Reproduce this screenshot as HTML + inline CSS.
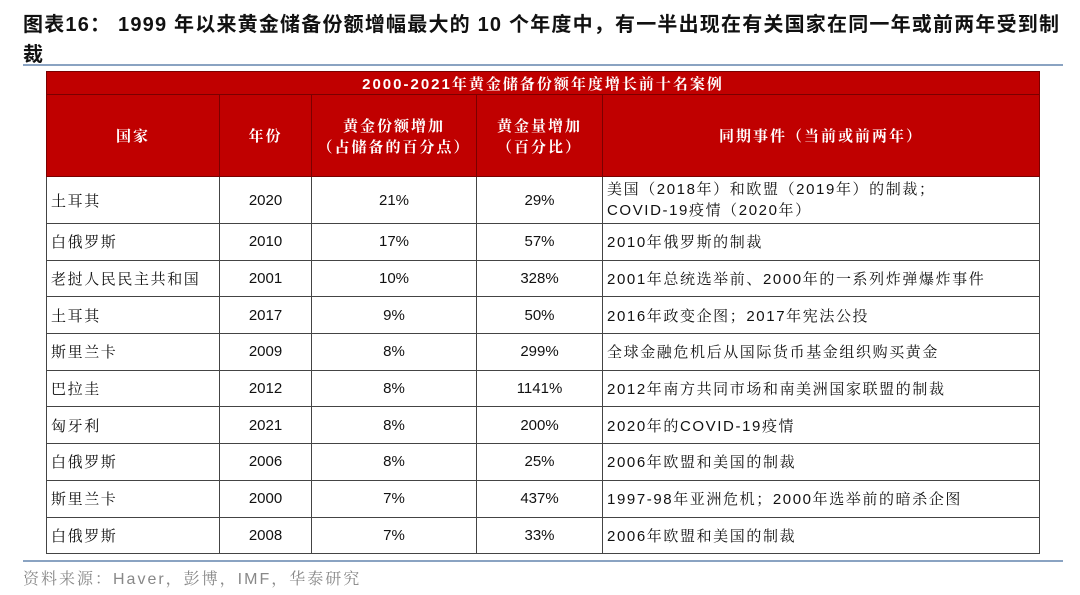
<!DOCTYPE html>
<html><head><meta charset="utf-8"><style>
body{margin:0;width:1080px;height:595px;background:#fff;position:relative;overflow:hidden;font-family:"Liberation Sans","Noto Serif CJK SC",serif;}
.t{position:absolute;left:23px;font-weight:bold;font-size:20px;font-family:"Liberation Sans","Noto Sans CJK SC",sans-serif;color:#111;white-space:nowrap;letter-spacing:1.2px;}
.line{position:absolute;left:23px;width:1040px;height:2px;background:#8aa3c2;}
table{position:absolute;left:46px;top:71px;width:994px;border-collapse:collapse;font-size:15px;color:#111;}
td{border:1.5px solid #444;padding:0 4px;}
.h td{background:#c00000;color:#fff;font-weight:bold;text-align:center;border-color:#7a0000;font-size:15px;letter-spacing:2px;}
.c{text-align:center;}
td.w{letter-spacing:1.6px;}
.src{position:absolute;left:23px;top:566px;font-size:16px;color:#888;letter-spacing:2px;}
</style></head><body>
<div class="t" style="top:8px">图表16： 1999 年以来黄金储备份额增幅最大的 10 个年度中，有一半出现在有关国家在同一年或前两年受到制</div>
<div class="t" style="top:38px">裁</div>
<div class="line" style="top:64px"></div>
<table>
<colgroup><col style="width:173px"><col style="width:92px"><col style="width:165px"><col style="width:126px"><col></colgroup>
<tr class="h" style="height:23px"><td colspan="5">2000-2021年黄金储备份额年度增长前十名案例</td></tr>
<tr class="h" style="height:82px"><td>国家</td><td>年份</td><td>黄金份额增加<br>（占储备的百分点）</td><td>黄金量增加<br>（百分比）</td><td>同期事件（当前或前两年）</td></tr>
<tr style="height:47px"><td class="w">土耳其</td><td class="c">2020</td><td class="c">21%</td><td class="c">29%</td><td class="w" style="line-height:21px">美国（2018年）和欧盟（2019年）的制裁；<br>COVID-19疫情（2020年）</td></tr>
<tr style="height:36.7px"><td class="w">白俄罗斯</td><td class="c">2010</td><td class="c">17%</td><td class="c">57%</td><td class="w">2010年俄罗斯的制裁</td></tr>
<tr style="height:36.7px"><td class="w">老挝人民民主共和国</td><td class="c">2001</td><td class="c">10%</td><td class="c">328%</td><td class="w">2001年总统选举前、2000年的一系列炸弹爆炸事件</td></tr>
<tr style="height:36.7px"><td class="w">土耳其</td><td class="c">2017</td><td class="c">9%</td><td class="c">50%</td><td class="w">2016年政变企图；2017年宪法公投</td></tr>
<tr style="height:36.7px"><td class="w">斯里兰卡</td><td class="c">2009</td><td class="c">8%</td><td class="c">299%</td><td class="w">全球金融危机后从国际货币基金组织购买黄金</td></tr>
<tr style="height:36.7px"><td class="w">巴拉圭</td><td class="c">2012</td><td class="c">8%</td><td class="c">1141%</td><td class="w">2012年南方共同市场和南美洲国家联盟的制裁</td></tr>
<tr style="height:36.7px"><td class="w">匈牙利</td><td class="c">2021</td><td class="c">8%</td><td class="c">200%</td><td class="w">2020年的COVID-19疫情</td></tr>
<tr style="height:36.7px"><td class="w">白俄罗斯</td><td class="c">2006</td><td class="c">8%</td><td class="c">25%</td><td class="w">2006年欧盟和美国的制裁</td></tr>
<tr style="height:36.7px"><td class="w">斯里兰卡</td><td class="c">2000</td><td class="c">7%</td><td class="c">437%</td><td class="w">1997-98年亚洲危机；2000年选举前的暗杀企图</td></tr>
<tr style="height:36.7px"><td class="w">白俄罗斯</td><td class="c">2008</td><td class="c">7%</td><td class="c">33%</td><td class="w">2006年欧盟和美国的制裁</td></tr>
</table>
<div class="line" style="top:560px"></div>
<div class="src">资料来源：Haver，彭博，IMF，华泰研究</div>
</body></html>
